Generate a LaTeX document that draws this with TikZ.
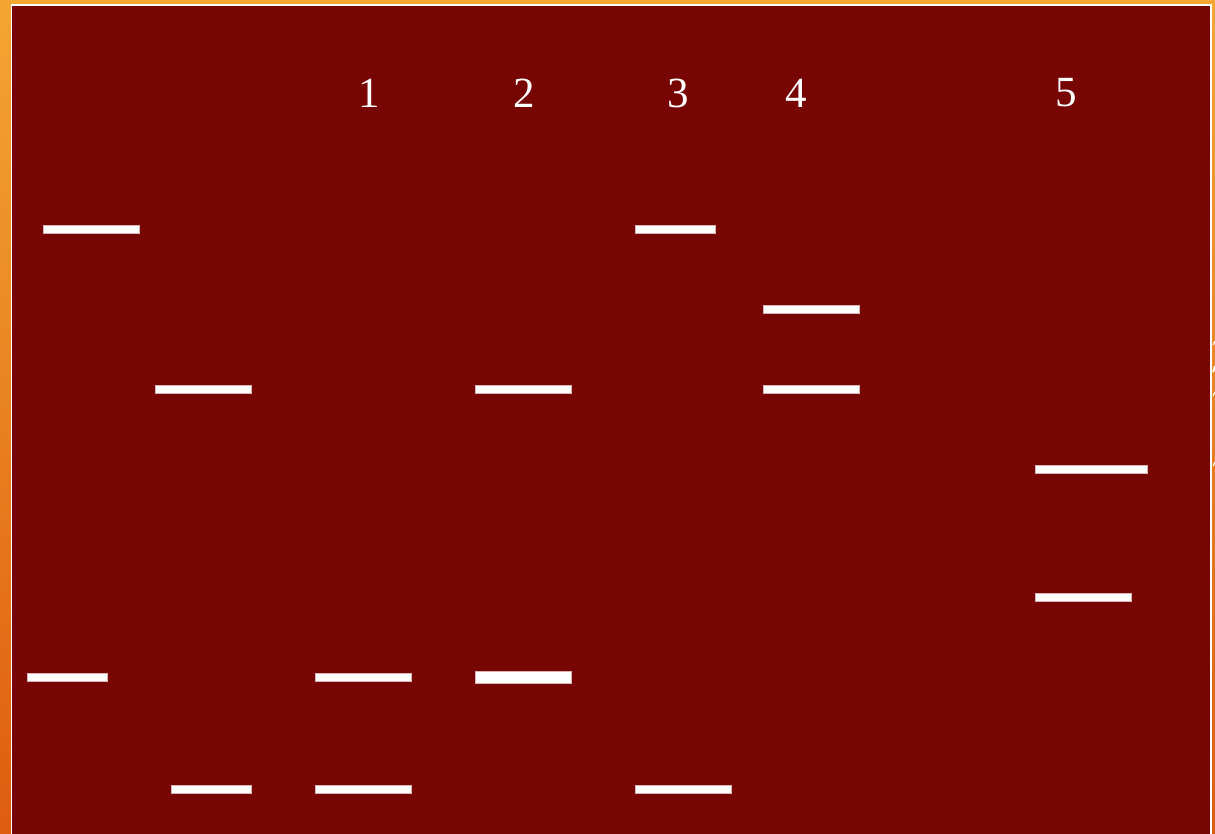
\documentclass[tikz,border=0pt]{standalone}
\usepackage{fontspec}
\setmainfont{Liberation Serif}
\definecolor{gel}{RGB}{118,5,3}
\definecolor{orangetop}{RGB}{244,166,50}
\definecolor{orangebot}{RGB}{222,92,16}
\begin{document}
\begin{tikzpicture}[x=1pt,y=-1pt,
  band/.style={fill=white,draw=white!70!gel,line width=0.4pt},
  lanelabel/.style={text=white,font=\fontsize{43}{45}\selectfont,inner sep=0pt,anchor=center}]
\useasboundingbox (0,0) rectangle (1215,834);
\shade[top color=orangetop,bottom color=orangebot] (0,0) rectangle (1215,834);
\fill[white] (10.5,4.5) rectangle (1211.8,834);
\fill[gel] (12,6) rectangle (1210,834);
% lane labels
\node[lanelabel] (l1) at (369,93) {1};
\node[lanelabel] (l2) at (524,93) {2};
\node[lanelabel] (l3) at (678,93) {3};
\node[lanelabel] (l4) at (796,93) {4};
\node[lanelabel] (l5) at (1066,93) {5};
% bands
\draw[band] (43,225) rectangle (139,233);
\draw[band] (155,385) rectangle (251,393);
\draw[band] (635,225) rectangle (715,233);
\draw[band] (763,305) rectangle (859,313);
\draw[band] (763,385) rectangle (859,393);
\draw[band] (475,385) rectangle (571,393);
\draw[band] (1035,465) rectangle (1147,473);
\draw[band] (1035,593) rectangle (1131,601);
\draw[band] (27,673) rectangle (107,681);
\draw[band] (315,673) rectangle (411,681);
\draw[band] (475,671) rectangle (571,683);
\draw[band] (171,785) rectangle (251,793);
\draw[band] (315,785) rectangle (411,793);
\draw[band] (635,785) rectangle (731,793);
% small marks at right edge
\draw[white,line width=1.2pt] (1213,345) -- (1215,341);
\draw[white,line width=2pt] (1213,372) -- (1215,366);
\draw[white,line width=1.2pt] (1213,396) -- (1215,392);
\draw[white,line width=1.2pt] (1213,466) -- (1215,462);
\end{tikzpicture}
\end{document}
